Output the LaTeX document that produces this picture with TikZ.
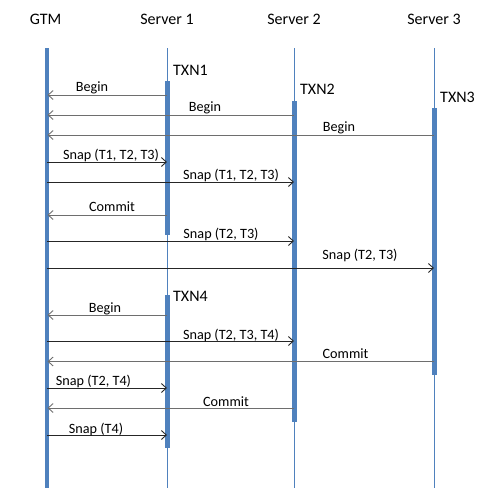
\documentclass[tikz,border=0pt]{standalone}
\usepackage{fontspec}
\setmainfont{Carlito}
\usetikzlibrary{arrows.meta}
\definecolor{lifeblue}{HTML}{4F81BD}
\definecolor{retgray}{HTML}{6E6E6E}
\definecolor{fwdblack}{HTML}{262626}
\tikzset{
  hdr/.style={font=\fontsize{16}{19}\selectfont, inner sep=0pt},
  txn/.style={font=\fontsize{16}{19}\selectfont, inner sep=0pt, anchor=west},
  msglbl/.style={font=\fontsize{14.2}{17}\selectfont, inner sep=0pt},
  thinlife/.style={draw=lifeblue, line width=1pt},
  gtmlife/.style={draw=lifeblue, line width=3.2pt},
  actbar/.style={draw=lifeblue, line width=5pt},
  retmsg/.style={draw=retgray, line width=0.9pt, -{Straight Barb[length=5pt,width=9pt]}},
  fwdmsg/.style={draw=fwdblack, line width=0.9pt, -{Straight Barb[length=5pt,width=9pt]}},
}
\begin{document}
\begin{tikzpicture}[x=1pt,y=-1pt]
\useasboundingbox (0,0) rectangle (497,493);
% headers
\node[hdr] (hg) at (45.5,19) {GTM};
\node[hdr] (h1) at (167,19) {Server 1};
\node[hdr] (h2) at (294,19) {Server 2};
\node[hdr] (h3) at (434,19) {Server 3};
% lifelines
\coordinate (gt) at (47,48); \coordinate (gb) at (47,488);
\coordinate (s1t) at (167,48); \coordinate (s1b) at (167,488);
\coordinate (s2t) at (294,48); \coordinate (s2b) at (294,488);
\coordinate (s3t) at (434,48); \coordinate (s3b) at (434,488);
\draw[thinlife] (s1t) -- (s1b);
\draw[thinlife] (s2t) -- (s2b);
\draw[thinlife] (s3t) -- (s3b);
\draw[gtmlife] (gt) -- (gb);
% activation bars
\coordinate (a1t) at (167,81); \coordinate (a1b) at (167,235);
\coordinate (a2t) at (294,101); \coordinate (a2b) at (294,422);
\coordinate (a3t) at (434,108); \coordinate (a3b) at (434,375);
\coordinate (a4t) at (167,295); \coordinate (a4b) at (167,448);
\draw[actbar] (a1t) -- (a1b);
\draw[actbar] (a2t) -- (a2b);
\draw[actbar] (a3t) -- (a3b);
\draw[actbar] (a4t) -- (a4b);
\node[txn] (t1) at (173,70) {TXN1};
\node[txn] (t2) at (300,89) {TXN2};
\node[txn] (t3) at (440,97) {TXN3};
\node[txn] (t4) at (173,296) {TXN4};
% message end points
\coordinate (m1s) at (167,95);  \coordinate (m1g) at (47.5,95);
\coordinate (m2s) at (294,115); \coordinate (m2g) at (47.5,115);
\coordinate (m3s) at (434,135); \coordinate (m3g) at (47.5,135);
\coordinate (m4g) at (47,162);  \coordinate (m4s) at (167,162);
\coordinate (m5g) at (47,182);  \coordinate (m5s) at (294,182);
\coordinate (m6s) at (167,215); \coordinate (m6g) at (47.5,215);
\coordinate (m7g) at (47,241);  \coordinate (m7s) at (294,241);
\coordinate (m8g) at (47,268);  \coordinate (m8s) at (434,268);
\coordinate (m9s) at (167,315); \coordinate (m9g) at (47.5,315);
\coordinate (m10g) at (47,341); \coordinate (m10s) at (294,341);
\coordinate (m11s) at (434,361.5); \coordinate (m11g) at (47.5,361.5);
\coordinate (m12g) at (47,388); \coordinate (m12s) at (167,388);
\coordinate (m13s) at (294,408); \coordinate (m13g) at (47.5,408);
\coordinate (m14g) at (47,435); \coordinate (m14s) at (167,435);
% messages
\draw[retmsg] (m1s) -- (m1g);
\draw[retmsg] (m2s) -- (m2g);
\draw[retmsg] (m3s) -- (m3g);
\draw[fwdmsg] (m4g) -- (m4s);
\draw[fwdmsg] (m5g) -- (m5s);
\draw[retmsg] (m6s) -- (m6g);
\draw[fwdmsg] (m7g) -- (m7s);
\draw[fwdmsg] (m8g) -- (m8s);
\draw[retmsg] (m9s) -- (m9g);
\draw[fwdmsg] (m10g) -- (m10s);
\draw[retmsg] (m11s) -- (m11g);
\draw[fwdmsg] (m12g) -- (m12s);
\draw[retmsg] (m13s) -- (m13g);
\draw[fwdmsg] (m14g) -- (m14s);
% labels
\node[msglbl] (l1) at (92,88) {Begin};
\node[msglbl] (l2) at (205,108) {Begin};
\node[msglbl] (l3) at (339,128) {Begin};
\node[msglbl] (l4) at (111,155) {Snap (T1, T2, T3)};
\node[msglbl] (l5) at (231,175) {Snap (T1, T2, T3)};
\node[msglbl] (l6) at (112,207) {Commit};
\node[msglbl] (l7) at (221,234) {Snap (T2, T3)};
\node[msglbl] (l8) at (360,255) {Snap (T2, T3)};
\node[msglbl] (l9) at (105,309) {Begin};
\node[msglbl] (l10) at (231,335) {Snap (T2, T3, T4)};
\node[msglbl] (l11) at (345.5,354) {Commit};
\node[msglbl] (l12) at (93.5,381.5) {Snap (T2, T4)};
\node[msglbl] (l13) at (226,401.5) {Commit};
\node[msglbl] (l14) at (96,429) {Snap (T4)};
\end{tikzpicture}
\end{document}
